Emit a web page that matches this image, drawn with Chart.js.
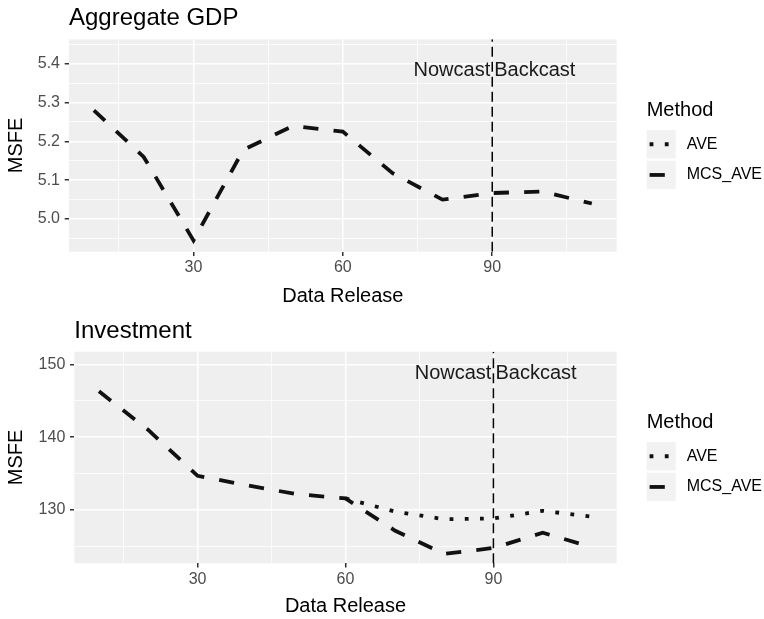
<!DOCTYPE html>
<html>
<head>
<meta charset="utf-8">
<script src="https://cdn.jsdelivr.net/npm/chart.js@4.4.1/dist/chart.umd.min.js"></script>
<style>
  html, body { margin: 0; padding: 0; background: #fff; }
  #wrap { position: relative; width: 764px; height: 619px; }
  canvas { position: absolute; left: 0; }
</style>
</head>
<body>
<div id="wrap">
  <canvas id="chart_gdp" width="764" height="310" style="top:0px"></canvas>
  <canvas id="chart_inv" width="764" height="309" style="top:310px"></canvas>
</div>
<script>
// data
const releases = [10, 20, 30, 40, 50, 60, 70, 80, 90, 100, 110];
const gdpMcsAve = [5.28, 5.16, 4.945, 5.178, 5.24, 5.225, 5.118, 5.05, 5.067, 5.071, 5.04];
const invMcsAve = [146.3, 141.0, 134.7, 133.4, 132.2, 131.6, 127.2, 124.0, 124.8, 126.9, 124.9];
const invAve = [null, null, null, null, null, 131.6, 129.8, 128.75, 128.85, 129.9, 129.1];
const xMajor = [30, 60, 90];
const xMinor = [15, 45, 75, 105];
const gdpMajor = [5.0, 5.1, 5.2, 5.3, 5.4];
const gdpMinor = [4.95, 5.05, 5.15, 5.25, 5.35, 5.45];
const invMajor = [130, 140, 150];
const invMinor = [125, 135, 145];
const splitRelease = 90;
const methods = ['AVE', 'MCS_AVE'];

const FONT = '"Liberation Sans", Arial, Helvetica, sans-serif';
const LW = 3.8;
const dashMcs = [15.2, 15.2];
const dashAve = [3.8, 11.4];
const el = id => document.getElementById(id);
const pts = ys => releases.map((x, i) => ({ x: x, y: ys[i] }));

// grey panel behind grid
const panelBg = {
  id: 'panelBg',
  beforeDraw(chart){
    const { ctx, chartArea: a } = chart;
    ctx.save(); ctx.fillStyle = '#efefef';
    ctx.fillRect(a.left, a.top, a.right - a.left, a.bottom - a.top);
    ctx.restore();
  }
};

// title, Nowcast/Backcast text, legend
const decor = {
  id: 'decor',
  afterDraw(chart, args, o){
    const { ctx, chartArea: a } = chart;
    const xs = chart.scales.x, ys = chart.scales.y;
    ctx.save();
    ctx.fillStyle = '#000';
    ctx.font = '24px ' + FONT; ctx.textAlign = 'left'; ctx.textBaseline = 'alphabetic';
    ctx.fillText(o.title, a.left, a.top - 14);

    const px = xs.getPixelForValue(splitRelease), py = ys.getPixelForValue(o.labelY);
    ctx.font = '20px ' + FONT; ctx.textBaseline = 'middle';
    ctx.fillStyle = '#1a1a1a';
    ctx.textAlign = 'right'; ctx.fillText('Nowcast', px - 2, py);
    ctx.textAlign = 'left'; ctx.fillText('Backcast', px + 2, py);

    // legend
    const mid = (a.top + a.bottom) / 2;
    const lx = 646.7;
    ctx.fillStyle = '#000';
    ctx.font = '20px ' + FONT; ctx.textAlign = 'left'; ctx.textBaseline = 'middle';
    ctx.fillText('Method', lx, mid - 35.5);
    const kw = 29, kh = 28.5;
    methods.forEach((m, i) => {
      const top = mid - 15.5 + i * 30.7;
      ctx.fillStyle = '#f2f2f2';
      ctx.fillRect(lx, top, kw, kh);
      ctx.strokeStyle = '#111'; ctx.lineWidth = LW; ctx.lineCap = 'butt';
      ctx.setLineDash(m === 'AVE' ? dashAve : dashMcs);
      ctx.beginPath(); ctx.moveTo(lx + 0.1 * kw, top + kh / 2); ctx.lineTo(lx + 0.9 * kw, top + kh / 2); ctx.stroke();
      ctx.setLineDash([]);
      ctx.fillStyle = '#000'; ctx.font = '16px ' + FONT;
      ctx.fillText(m, lx + 40, top + kh / 2);
    });
    ctx.restore();
  }
};

function axis(kind, min, max, major, minor, size, fmt, titleText, titlePad){
  const all = major.concat(minor).sort((p, q) => p - q);
  const isMajor = c => c.tick && major.includes(c.tick.value);
  return {
    type: 'linear', min: min, max: max,
    afterBuildTicks: s => { s.ticks = all.map(v => ({ value: v })); },
    afterFit: s => { if(kind === 'x') s.height = size; else s.width = size; },
    border: { display: false },
    grid: {
      color: '#ffffff',
      lineWidth: c => isMajor(c) ? 1.5 : 0.75,
      tickColor: c => isMajor(c) ? '#333333' : 'rgba(0,0,0,0)',
      tickLength: 4.3
    },
    ticks: {
      autoSkip: false, maxRotation: 0,
      color: '#4d4d4d', font: { family: FONT, size: 16 },
      padding: kind === 'x' ? 2 : 4.7,
      callback: v => major.includes(v) ? fmt(v) : ''
    },
    title: { display: true, text: titleText, color: '#000', font: { family: FONT, size: 20 }, padding: titlePad }
  };
}

function vline(min, max){
  return { data: [{ x: splitRelease, y: min }, { x: splitRelease, y: max }], borderColor: '#000', borderWidth: 1.5, borderDash: [10, 5], pointRadius: 0, order: 0 };
}

function panel(id, cfg){
  return new Chart(el(id), {
    type: 'line',
    data: { datasets: cfg.datasets.concat([vline(cfg.yMin, cfg.yMax)]) },
    options: {
      responsive: false, animation: false,
      layout: { padding: { top: cfg.top, right: 147.3, left: 0, bottom: 0 } },
      plugins: { legend: { display: false }, tooltip: { enabled: false }, decor: { title: cfg.title, labelY: cfg.labelY } },
      elements: { line: { tension: 0 }, point: { radius: 0 } },
      scales: {
        x: axis('x', 5, 115, xMajor, xMinor, cfg.xHeight, v => String(v), 'Data Release', { top: 0, bottom: cfg.xTitlePad }),
        y: axis('y', cfg.yMin, cfg.yMax, cfg.yMajor, cfg.yMinor, cfg.yWidth, cfg.fmt, 'MSFE', { top: 4, bottom: 0 })
      }
    },
    plugins: [panelBg, decor]
  });
}

const lineStyle = (label, ys, dash, order) => ({ label: label, data: pts(ys), borderColor: '#111', borderWidth: LW, borderDash: dash, borderCapStyle: 'butt', spanGaps: false, order: order });

panel('chart_gdp', {
  title: 'Aggregate GDP', top: 39.3, xHeight: 58.3, yWidth: 69, xTitlePad: 2,
  yMin: 4.916, yMax: 5.4627, yMajor: gdpMajor, yMinor: gdpMinor, fmt: v => v.toFixed(1), labelY: 5.382,
  datasets: [lineStyle('MCS_AVE', gdpMcsAve, dashMcs, 1)]
});

panel('chart_inv', {
  title: 'Investment', top: 41.7, xHeight: 55.7, yWidth: 74.3, xTitlePad: 1,
  yMin: 122.7, yMax: 151.73, yMajor: invMajor, yMinor: invMinor, fmt: v => String(v), labelY: 148.8,
  datasets: [lineStyle('MCS_AVE', invMcsAve, dashMcs, 1), lineStyle('AVE', invAve, dashAve, 2)]
});
</script>
</body>
</html>
